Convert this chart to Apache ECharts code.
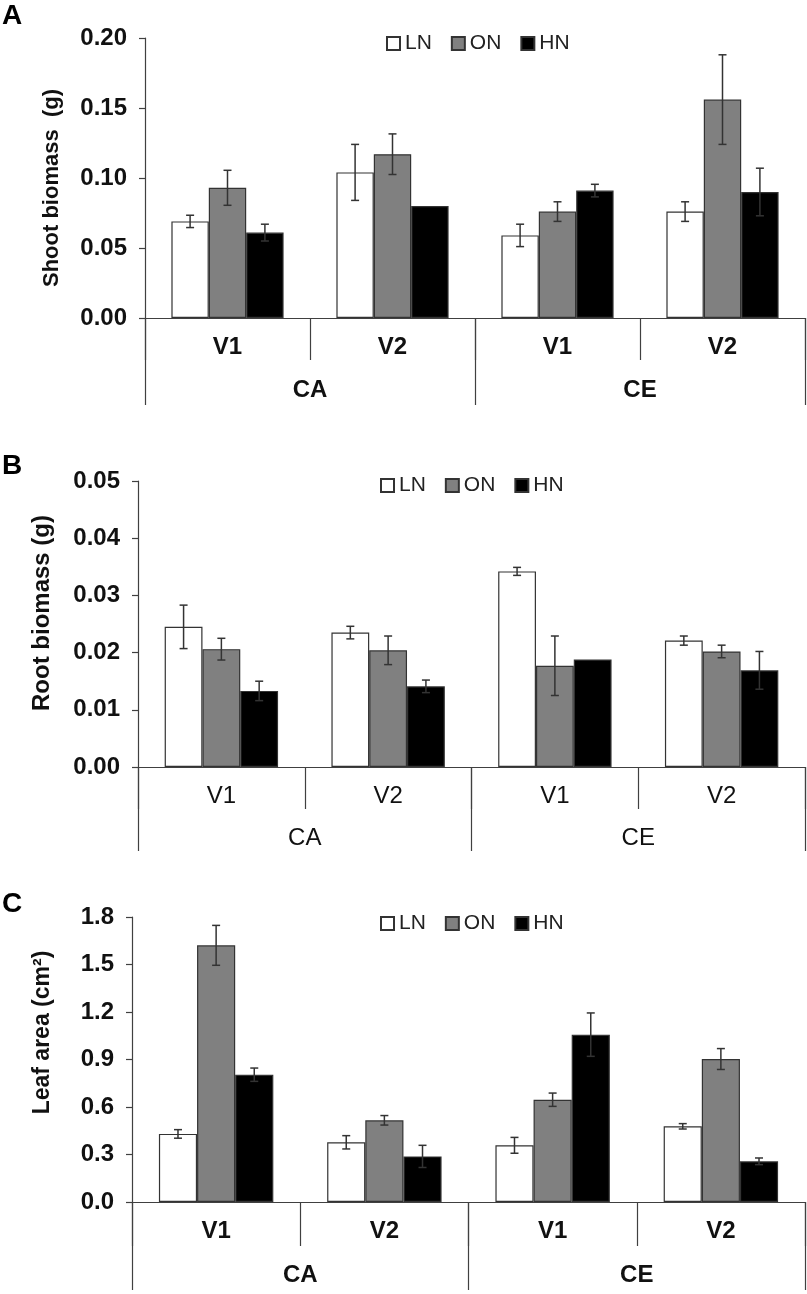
<!DOCTYPE html>
<html>
<head>
<meta charset="utf-8">
<script src="https://cdn.jsdelivr.net/npm/echarts@6/dist/echarts.min.js"></script>
<style>
  html, body { margin: 0; padding: 0; background: #fff; }
  #main { width: 807px; height: 1294px; }
</style>
</head>
<body>
<div id="main"></div>
<script>
// categories
var varieties = ["V1", "V2", "V1", "V2"];
var groups = ["CA", "CE"];
var seriesNames = ["LN", "ON", "HN"];

// A - shoot biomass (g)
var shootLN = [0.069, 0.104, 0.059, 0.076];
var shootON = [0.093, 0.117, 0.076, 0.156];
var shootHN = [0.061, 0.080, 0.091, 0.090];
var shootLNErr = [0.0044, 0.020, 0.008, 0.007];
var shootONErr = [0.0125, 0.0145, 0.007, 0.032];
var shootHNErr = [0.006, 0, 0.0045, 0.017];

// B - root biomass (g)
var rootLN = [0.0245, 0.0235, 0.0342, 0.0221];
var rootON = [0.0206, 0.0204, 0.0177, 0.0202];
var rootHN = [0.0133, 0.0141, 0.0188, 0.0169];
var rootLNErr = [0.0038, 0.0011, 0.0007, 0.0008];
var rootONErr = [0.0019, 0.0025, 0.0052, 0.0011];
var rootHNErr = [0.0017, 0.0011, 0, 0.0033];

// C - leaf area (cm2)
var leafLN = [0.43, 0.377, 0.358, 0.478];
var leafON = [1.621, 0.516, 0.646, 0.903];
var leafHN = [0.804, 0.288, 1.057, 0.257];
var leafLNErr = [0.027, 0.042, 0.05, 0.017];
var leafONErr = [0.126, 0.03, 0.042, 0.066];
var leafHNErr = [0.042, 0.07, 0.137, 0.021];

var FONT = "Liberation Sans, Arial, sans-serif";
var AXIS_COLOR = "#404040";
var GAP = 0.32; // barCategoryGap
var barColors = ["#ffffff", "#808080", "#000000"];

var panels = [
  {
    letter: "A", letterTop: 2, top: 38, height: 280, left: 145,
    max: 0.2, interval: 0.05, digits: 2,
    name: "Shoot biomass  (g)", nameGap: 82, nameSize: 22, namePad: [0, 20, 0, 0],
    catBold: true, legendLeft: 381, legendTop: 28,
    values: [shootLN, shootON, shootHN], errs: [shootLNErr, shootONErr, shootHNErr],
    tick1: 42, tick2: 87, labelMargin1: 17, labelMargin2: 60
  },
  {
    letter: "B", letterTop: 452, top: 481, height: 286, left: 138,
    max: 0.05, interval: 0.01, digits: 2,
    name: "Root biomass (g)", nameGap: 84, nameSize: 24, namePad: [0, 0, 0, 22],
    catBold: false, legendLeft: 375, legendTop: 470,
    values: [rootLN, rootON, rootHN], errs: [rootLNErr, rootONErr, rootHNErr],
    tick1: 42, tick2: 84, labelMargin1: 17, labelMargin2: 59
  },
  {
    letter: "C", letterTop: 890, top: 917, height: 285, left: 132,
    max: 1.8, interval: 0.3, digits: 1,
    name: "Leaf area (cm\u00b2)", nameGap: 78, nameSize: 23, namePad: [0, 0, 0, 54],
    catBold: true, legendLeft: 375, legendTop: 908,
    values: [leafLN, leafON, leafHN], errs: [leafLNErr, leafONErr, leafHNErr],
    tick1: 44, tick2: 88, labelMargin1: 17, labelMargin2: 61
  }
];

var option = {
  animation: false,
  backgroundColor: "#fff",
  textStyle: { fontFamily: FONT },
  grid: [],
  xAxis: [],
  yAxis: [],
  legend: [],
  series: [],
  graphic: []
};

panels.forEach(function (p, i) {
  option.grid.push({ left: p.left, right: 2, top: p.top, height: p.height });

  // variety axis (V1 / V2)
  option.xAxis.push({
    type: "category", gridIndex: i, data: varieties, position: "bottom",
    axisLine: { show: true, lineStyle: { color: AXIS_COLOR, width: 1.2 } },
    axisTick: { show: true, length: p.tick1, lineStyle: { color: AXIS_COLOR, width: 1.2 } },
    axisLabel: {
      margin: p.labelMargin1, color: "#111", fontSize: 24,
      fontWeight: p.catBold ? "bold" : "normal", fontFamily: FONT
    }
  });
  // CO2 axis (CA / CE)
  option.xAxis.push({
    type: "category", gridIndex: i, data: groups, position: "bottom", offset: 0,
    axisLine: { show: false },
    axisTick: { show: true, length: p.tick2, lineStyle: { color: AXIS_COLOR, width: 1.2 } },
    axisLabel: {
      margin: p.labelMargin2, color: "#111", fontSize: 24,
      fontWeight: p.catBold ? "bold" : "normal", fontFamily: FONT
    }
  });

  option.yAxis.push({
    type: "value", gridIndex: i, min: 0, max: p.max, interval: p.interval,
    name: p.name, nameLocation: "middle", nameGap: p.nameGap,
    nameTextStyle: {
      fontSize: p.nameSize, fontWeight: "bold", color: "#111",
      fontFamily: FONT, padding: p.namePad
    },
    splitLine: { show: false },
    axisLine: { show: true, lineStyle: { color: AXIS_COLOR, width: 1.2 } },
    axisTick: { show: true, length: 6, lineStyle: { color: AXIS_COLOR, width: 1.2 } },
    axisLabel: {
      margin: 18, color: "#111", fontSize: 24, fontWeight: "bold", fontFamily: FONT,
      formatter: (function (d) { return function (v) { return v.toFixed(d); }; })(p.digits)
    }
  });

  option.legend.push({
    data: seriesNames, left: p.legendLeft, top: p.legendTop,
    icon: "rect", itemWidth: 13, itemHeight: 13, itemGap: 19,
    textStyle: { fontSize: 21, color: "#222", fontFamily: FONT },
    selectedMode: false
  });

  seriesNames.forEach(function (nm, k) {
    option.series.push({
      name: nm, type: "bar", xAxisIndex: i * 2, yAxisIndex: i,
      data: p.values[k], barGap: "0%", barCategoryGap: (GAP * 100) + "%",
      itemStyle: { color: barColors[k], borderColor: "#333", borderWidth: 1.2 }
    });
  });

  // error bars
  seriesNames.forEach(function (nm, k) {
    var errData = p.values[k].map(function (v, j) { return [j, v, p.errs[k][j]]; });
    option.series.push({
      type: "custom", xAxisIndex: i * 2, yAxisIndex: i, z: 5,
      silent: true,
      data: errData,
      renderItem: function (params, api) {
        var e = api.value(2);
        if (!e) return null;
        var c = api.value(0), v = api.value(1);
        var band = api.size([1, 0])[0];
        var bw = band * (1 - GAP) / 3;
        var x = api.coord([c, v])[0] + (k - 1) * bw;
        var yTop = api.coord([c, v + e])[1];
        var yBot = api.coord([c, v - e])[1];
        var cap = 4;
        var st = { stroke: "#333", lineWidth: 1.5 };
        return {
          type: "group",
          children: [
            { type: "line", shape: { x1: x, y1: yTop, x2: x, y2: yBot }, style: st },
            { type: "line", shape: { x1: x - cap, y1: yTop, x2: x + cap, y2: yTop }, style: st },
            { type: "line", shape: { x1: x - cap, y1: yBot, x2: x + cap, y2: yBot }, style: st }
          ]
        };
      }
    });
  });

  option.graphic.push({
    type: "text", left: 2, top: p.letterTop,
    style: { text: p.letter, font: "bold 28px " + FONT, fill: "#000" }
  });
});

var myChart = echarts.init(document.getElementById("main"));
myChart.setOption(option);
</script>
</body>
</html>
